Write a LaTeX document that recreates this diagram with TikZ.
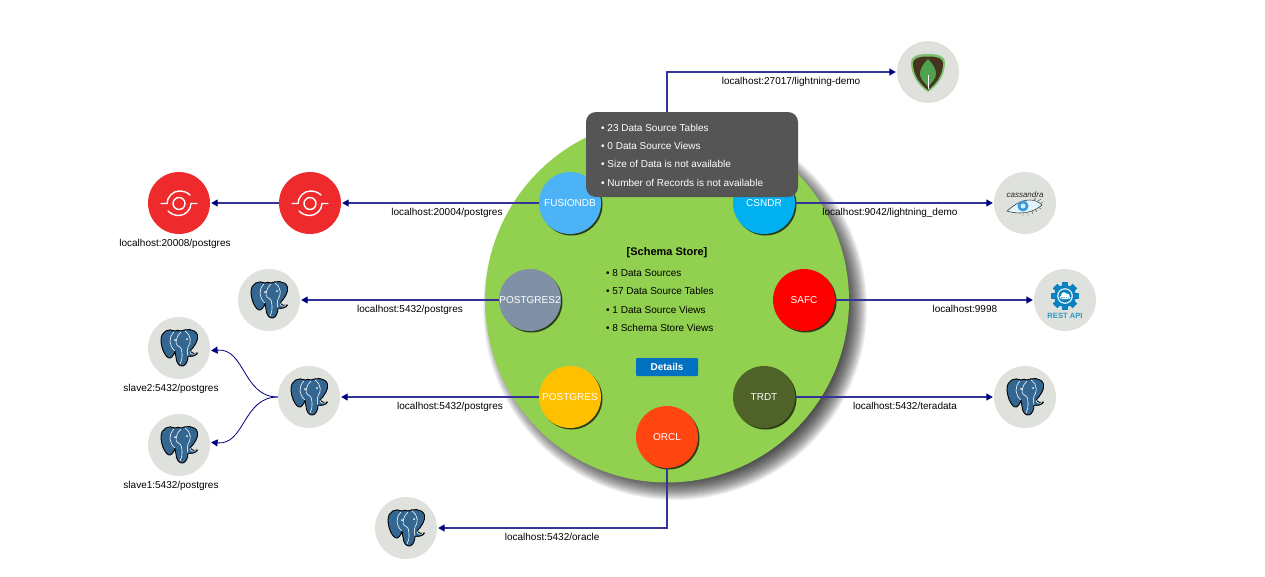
\documentclass[tikz,border=0pt]{standalone}
\usepackage{fontspec}
\setmainfont{Liberation Sans}
\usepackage{xcolor}
\usetikzlibrary{arrows.meta, positioning, shadows, calc}

\definecolor{navy}{HTML}{000080}
\definecolor{pgblue}{HTML}{336791}
\definecolor{storegray}{HTML}{DFE2DC}
\definecolor{streamred}{HTML}{EF2A2C}
\definecolor{restblue}{HTML}{0A82C0}
\definecolor{schemagreen}{HTML}{92D050}
\definecolor{tooltipgray}{HTML}{555555}
\definecolor{detailsblue}{HTML}{0070C0}
\definecolor{mongolight}{HTML}{7CBF6C}
\definecolor{mongobrown}{HTML}{47341F}
\definecolor{mongoleaf}{HTML}{4FA34F}
\definecolor{fusioncolor}{HTML}{4DB3F7}
\definecolor{csndrcolor}{HTML}{00B0F0}
\definecolor{pgtwocolor}{HTML}{8090A5}
\definecolor{pgcolor}{HTML}{FFC000}
\definecolor{trdtcolor}{HTML}{4F6228}
\definecolor{orclcolor}{HTML}{FF4610}

\begin{document}
\begin{tikzpicture}[
    x=1pt, y=-1pt,
    every node/.style={font=\fontsize{10}{12}\selectfont},
    source/.style={circle, minimum size=62pt, inner sep=0pt, text=white, drop shadow={shadow xshift=1.5pt, shadow yshift=-1.5pt, opacity=.7, fill=black}},
    store/.style={circle, fill=storegray, minimum size=62pt, inner sep=0pt},
    stream/.style={circle, fill=streamred, minimum size=62pt, inner sep=0pt},
    link/.style={->, >={Triangle[length=6.5pt,width=7pt,fill=navy,color=navy]}, navy!80!white, line width=1.1pt, shorten >=1pt},
    curvelink/.style={->, >={Triangle[length=6.5pt,width=7pt,fill=navy,color=navy]}, navy, line width=.8pt, shorten >=1pt},
    linklabel/.style={below, inner sep=5pt, text=black},
    storelabel/.style={inner sep=4.5pt, xshift=-8pt},
    pgicon/.pic={
        \draw[fill=pgblue, draw=black, line width=.9pt, line join=round]
            (-4,-17) .. controls (-10,-20) and (-18,-17) .. (-18,-8)
            .. controls (-18,-2) and (-15,8) .. (-10,10)
            .. controls (-8,11) and (-5,7) .. (-4,3)
            .. controls (-3,6) and (-4,8) .. (-3,9)
            .. controls (-3,14) and (0,19) .. (4,18)
            .. controls (7,17) and (9,13) .. (9,8)
            .. controls (12,9) and (17,8) .. (18.5,5)
            .. controls (15,6) and (12,5) .. (11,3)
            .. controls (15,-1) and (20,-8) .. (18.5,-13)
            .. controls (16,-20) and (6,-19) .. (2,-17)
            .. controls (0,-18) and (-2,-18) .. (-4,-17) -- cycle;
        \draw[white, line width=.6pt]
            (-5,-16) .. controls (-11,-10) and (-10,-2) .. (-4,3);
        \draw[white, line width=.6pt]
            (2,-16) .. controls (-3,-12) and (-4,-4) .. (-2,-3) .. controls (1,-2) and (3,0) .. (3,6)
            .. controls (3,10) and (3,13) .. (1,16);
        \draw[white, line width=.6pt]
            (6,-17) .. controls (13,-12) and (12,-5) .. (9,-1) .. controls (8,2) and (8,5) .. (9,8);
        \draw[white, line width=.6pt]
            (11,3) .. controls (11,6) and (14,7) .. (17,5.5);
        \fill[white] (-4,-8) circle (1);
        \fill[white] (8,-9) circle (1);
    },
    mongoicon/.pic={
        \fill[mongolight]
            (-17,-10) .. controls (-17,-15) and (-12,-18) .. (0,-18)
            .. controls (12,-18) and (17,-15) .. (17,-10)
            .. controls (17,4) and (9,14) .. (0,20)
            .. controls (-9,14) and (-17,4) .. (-17,-10) -- cycle;
        \fill[mongobrown]
            (-15,-9) .. controls (-15,-13) and (-10,-15.5) .. (0,-15.5)
            .. controls (10,-15.5) and (15,-13) .. (15,-9)
            .. controls (15,3) and (8,12) .. (0,18)
            .. controls (-8,12) and (-15,3) .. (-15,-9) -- cycle;
        \fill[mongoleaf]
            (0,-13) .. controls (5,-8) and (8,-3) .. (8,2)
            .. controls (8,7) and (3,11) .. (0,15)
            .. controls (-3,11) and (-8,7) .. (-8,2)
            .. controls (-8,-3) and (-5,-8) .. (0,-13) -- cycle;
        \draw[white, line width=.4pt] (0,3) -- (0,17);
    },
    streamicon/.pic={
        \draw[white, line width=1.4pt] (0,.5) circle (6);
        \draw[white, line width=1.4pt, line cap=round]
            (-18,.5) -- (-12,.5) .. controls (-12,-6) and (-6,-12) .. (0,-12) .. controls (4,-12) and (8,-11) .. (11,-8);
        \draw[white, line width=1.4pt, line cap=round]
            (18,.5) -- (12,.5) .. controls (12,7) and (6,12.5) .. (0,12.5) .. controls (-4,12.5) and (-8,11) .. (-11,8);
    },
    cassandraicon/.pic={
        \node[font=\fontsize{8}{9}\itshape\selectfont, text=black!85, inner sep=0pt] (cassandratext) at (0,-8) {cassandra};
        \fill[cyan!12!white, draw=black!75, line width=.6pt]
            (-18,8) .. controls (-10,1) and (-3,-3) .. (5,-3) .. controls (10,-3) and (14,-1) .. (17,2)
            .. controls (10,8) and (2,10) .. (-5,10) .. controls (-10,10) and (-15,9) .. (-18,8) -- cycle;
        \fill[cyan!70!blue!80!white] (-2,3) circle (5.5);
        \fill[cyan!20!white] (-2,3) circle (2.5);
        \draw[black!70, line width=.4pt]
            (7,8) -- (8,11) (10,6) -- (12,9) (13,4) -- (16,6) (3,10) -- (3,13) (-2,11) -- (-2,13)
            (9,-3) -- (11,-5) (13,-2) -- (16,-4) (16,0) -- (18,-1);
    },
    resticon/.pic={
        \foreach \a in {0,45,...,315}
            \fill[restblue, shift={(0,-4)}, rotate=\a] (-3.2,0) rectangle (3.2,14);
        \fill[restblue] (0,-4) circle (11);
        \fill[white] (0,-4) circle (7.8);
        \fill[restblue] (0,-4) circle (6.6);
        \fill[white] (-3.6,-2.6) circle (1.9) (-1,-5) circle (2.8) (2.4,-4.2) circle (2.2) (3.8,-2.4) circle (1.7)
            (-3.6,-3.2) rectangle (3.8,-.9);
        \node[font=\fontsize{7.6}{9}\bfseries\selectfont, text=restblue!85!white, inner sep=0pt] (resttext) at (0,16) {REST API};
    }
]
\useasboundingbox (0,0) rectangle (1265,576);

% Schema store circle
\foreach \k in {0,...,29}
    \fill[black, opacity=.056] (675,308) circle ({163+\k});
\node[circle, fill=schemagreen, minimum size=364pt, inner sep=0pt] (schema) at (667,300.5) {};
\node[font=\fontsize{11}{13}\bfseries\selectfont, text=black] (schematitle) at (667,252.5) {[Schema Store]};
\node[font=\fontsize{10}{18.5}\selectfont, align=left, anchor=west, inner sep=0pt] (schemalist) at (606,300.5) {• 8 Data Sources\\• 57 Data Source Tables\\• 1 Data Source Views\\• 8 Schema Store Views};
\node[fill=detailsblue, rounded corners=1pt, text=white, font=\fontsize{10}{12}\bfseries\selectfont, minimum width=62pt, minimum height=18pt, inner sep=0pt] (details) at (667,367) {Details};

% Sources
\node[source, fill=fusioncolor] (fusiondb) at (570,203) {FUSIONDB};
\node[source, fill=csndrcolor] (csndr) at (764,203) {CSNDR};
\node[source, fill=pgtwocolor] (postgrestwo) at (530,300) {POSTGRES2};
\node[source, fill=red] (safc) at (804,300) {SAFC};
\node[source, fill=pgcolor] (postgres) at (570,397) {POSTGRES};
\node[source, fill=trdtcolor] (trdt) at (764,397) {TRDT};
\node[source, fill=orclcolor] (orcl) at (667,437) {ORCL};

% Stores
\node[store] (mongo) at (928,72) {};
\node[store] (cassandra) at (1025,203) {};
\node[store] (rest) at (1065,300) {};
\node[store] (teradata) at (1025,397) {};
\node[store] (oracle) at (406,528) {};
\node[store] (pgtwo) at (269,300) {};
\node[store] (pgmaster) at (309,397) {};
\node[store, label={[storelabel]below:slave2:5432/postgres}] (slavetwo) at (179,348) {};
\node[store, label={[storelabel]below:slave1:5432/postgres}] (slaveone) at (179,445) {};
\node[stream] (streamone) at (310,203) {};
\node[stream, label={[storelabel, xshift=4pt]below:localhost:20008/postgres}] (streamtwo) at (179,203) {};

\pic at (mongo) {mongoicon};
\pic at (cassandra) {cassandraicon};
\pic at (rest) {resticon};
\foreach \store in {teradata, oracle, pgtwo, pgmaster, slavetwo, slaveone}
    \pic at (\store) {pgicon};
\pic at (streamone) {streamicon};
\pic at (streamtwo) {streamicon};

% Tooltip
\node[fill=tooltipgray, rounded corners=10pt, minimum width=212pt, minimum height=85pt, inner sep=0pt] (tooltip) at (692,154.5) {};
\node[font=\fontsize{10}{18.3}\selectfont, text=white, align=left, anchor=west, inner sep=0pt] (tooltiplist) at (601,155) {• 23 Data Source Tables\\• 0 Data Source Views\\• Size of Data is not available\\• Number of Records is not available};

% Arrows
\draw[link] (tooltip.north -| orcl) |- node[linklabel, pos=.77] {localhost:27017/lightning-demo} (mongo);
\draw[link] (csndr) -- node[linklabel, pos=.477] {localhost:9042/lightning\_demo} (cassandra);
\draw[link] (safc) -- node[linklabel, pos=.653] {localhost:9998} (rest);
\draw[link] (trdt) -- node[linklabel, pos=.553] {localhost:5432/teradata} (teradata);
\draw[link] (orcl) |- node[linklabel, pos=.75] {localhost:5432/oracle} (oracle);
\draw[link] (postgrestwo) -- node[linklabel, pos=.447] {localhost:5432/postgres} (pgtwo);
\draw[link] (postgres) -- node[linklabel, pos=.447] {localhost:5432/postgres} (pgmaster);
\draw[link] (fusiondb) -- node[linklabel, pos=.465] {localhost:20004/postgres} (streamone);
\draw[link] (streamone) -- (streamtwo);
\draw[curvelink] (pgmaster.west) .. controls +(-35,0) and +(35,-3) .. (slavetwo.-5);
\draw[curvelink] (pgmaster.west) .. controls +(-35,0) and +(35,3) .. (slaveone.5);

\end{tikzpicture}
\end{document}
